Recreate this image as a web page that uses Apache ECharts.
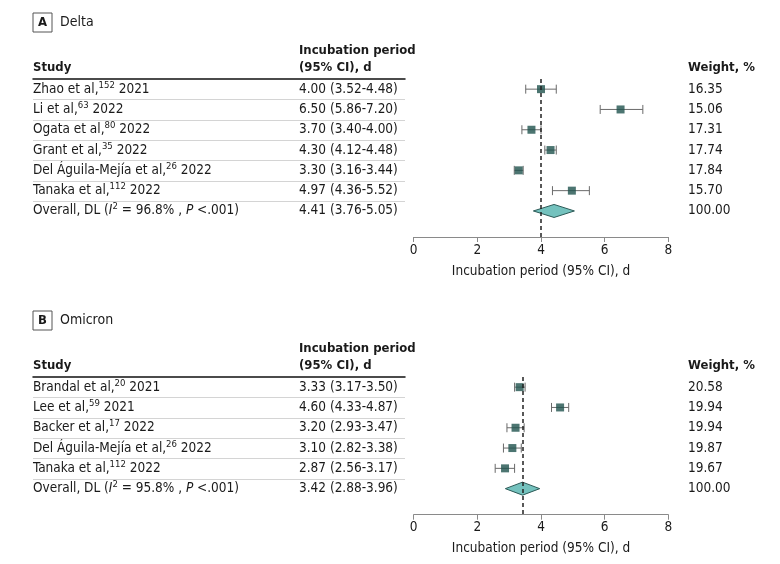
<!DOCTYPE html>
<html><head><meta charset="utf-8">
<script src="https://cdn.jsdelivr.net/npm/echarts@6/dist/echarts.min.js"></script>
<style>html,body{margin:0;padding:0;background:#fff}#c{width:780px;height:564px}</style>
</head><body><div id="c"></div>
<script>
// ---- Panel A: Delta ----
const studiesA = ['Zhao et al,', 'Li et al,', 'Ogata et al,', 'Grant et al,', 'Del Águila-Mejía et al,', 'Tanaka et al,'];
const refsA = ['152', '63', '80', '35', '26', '112'];
const yearsA = ['2021', '2022', '2022', '2022', '2022', '2022'];
const estA = [4.00, 6.50, 3.70, 4.30, 3.30, 4.97];
const loA = [3.52, 5.86, 3.40, 4.12, 3.16, 4.36];
const hiA = [4.48, 7.20, 4.00, 4.48, 3.44, 5.52];
const weightA = [16.35, 15.06, 17.31, 17.74, 17.84, 15.70];
const overallA = [4.41, 3.76, 5.05];
const overallWeightA = 100.00;
const i2A = '96.8';
const refLineA = 4.0;

// ---- Panel B: Omicron ----
const studiesB = ['Brandal et al,', 'Lee et al,', 'Backer et al,', 'Del Águila-Mejía et al,', 'Tanaka et al,'];
const refsB = ['20', '59', '17', '26', '112'];
const yearsB = ['2021', '2021', '2022', '2022', '2022'];
const estB = [3.33, 4.60, 3.20, 3.10, 2.87];
const loB = [3.17, 4.33, 2.93, 2.82, 2.56];
const hiB = [3.50, 4.87, 3.47, 3.38, 3.17];
const weightB = [20.58, 19.94, 19.94, 19.87, 19.67];
const overallB = [3.42, 2.88, 3.96];
const overallWeightB = 100.00;
const i2B = '95.8';
const refLineB = 3.42;

// ---- axis ----
const xMin = 0, xMax = 8, xStep = 2;
const xTitle = 'Incubation period (95% CI), d';

const FONT = '"DejaVu Sans Condensed", "DejaVu Sans", sans-serif';
const TXT = '#1a1a1a';
const FS = 13.5;
const ROW_H = 20.3;
const rich = {
  sup: { fontSize: 9.5, verticalAlign: 'top', lineHeight: 9, color: TXT, fontFamily: FONT },
  it: { fontStyle: 'italic', fontSize: FS, color: TXT, fontFamily: FONT }
};
const fmt = (e, l, h) => `${e.toFixed(2)} (${l.toFixed(2)}-${h.toFixed(2)})`;

const grids = [], xAxes = [], yAxes = [], series = [], titles = [];

function panel(k, letter, title, headY, studies, refs, years, est, lo, hi, w, ov, ovW, i2, refLine) {
  const n = studies.length + 1;
  const tableH = n * ROW_H;
  const axisY = headY + tableH + 15.9;
  const names = studies.map((s, i) => `${s}{sup|${refs[i]}} ${years[i]}`)
    .concat([`Overall, DL ({it|I}{sup|2} = ${i2}% , {it|P} <.001)`]);
  const ci = est.map((e, i) => fmt(e, lo[i], hi[i])).concat([fmt(ov[0], ov[1], ov[2])]);
  const wt = w.concat([ovW]).map(v => v.toFixed(2));

  titles.push({
    left: 33, top: headY - 66, padding: 0,
    text: `{b|${letter}}{t|${title}}`,
    textStyle: { rich: {
      b: { width: 19, height: 19, lineHeight: 19, align: 'center', borderColor: '#555', borderWidth: 1, fontWeight: 'bold', fontSize: 13, color: TXT, fontFamily: FONT },
      t: { padding: [0, 0, 0, 8], fontSize: 14, fontWeight: 'normal', color: TXT, fontFamily: FONT }
    } }
  });

  const gT = grids.length;
  grids.push({ left: 33, top: headY, width: 372, height: tableH, outerBoundsMode: 'none' });
  const gF = grids.length;
  grids.push({ left: 413.7, top: headY, width: 254.6, height: axisY - headY, outerBoundsMode: 'none' });

  const xT = xAxes.length;
  xAxes.push({ type: 'value', gridIndex: gT, min: 0, max: 1, position: 'top',
    axisLine: { show: true, onZero: false, lineStyle: { color: '#111', width: 1.5 } },
    axisTick: { show: false }, axisLabel: { show: false }, splitLine: { show: false } });
  const xF = xAxes.length;
  xAxes.push({ type: 'value', gridIndex: gF, min: xMin, max: xMax, interval: xStep, position: 'bottom',
    axisLine: { show: true, onZero: false, lineStyle: { color: '#8a8a8a', width: 1 } },
    axisTick: { show: true, length: 5, lineStyle: { color: '#8a8a8a' } },
    axisLabel: { color: TXT, fontSize: FS, margin: 6, fontFamily: FONT },
    splitLine: { show: false },
    name: xTitle, nameLocation: 'middle', nameGap: 27,
    nameTextStyle: { color: TXT, fontSize: FS, fontFamily: FONT } });

  const labelBase = (data) => ({ type: 'category', gridIndex: gT, data, inverse: true,
    axisLine: { show: false }, axisTick: { show: false }, splitLine: { show: false },
    axisLabel: { interval: 0, align: 'left', margin: 0, color: TXT, fontSize: FS, fontFamily: FONT, rich, lineHeight: 18 },
    nameLocation: 'start', nameGap: 3, nameMoveOverlap: false });
  const hdr = { fontWeight: 'bold', fontSize: 13, color: TXT, align: 'left', verticalAlign: 'bottom', lineHeight: 17, fontFamily: FONT };

  const yS = yAxes.length;
  yAxes.push(Object.assign(labelBase(names), { position: 'left', name: 'Study', nameTextStyle: hdr }));
  yAxes.push(Object.assign(labelBase(ci), { position: 'left', offset: -266, name: 'Incubation period\n(95% CI), d', nameTextStyle: hdr }));
  yAxes.push(Object.assign(labelBase(wt), { position: 'right', offset: 283, name: 'Weight, %', nameTextStyle: hdr }));
  const yF = yAxes.length;
  yAxes.push({ type: 'value', gridIndex: gF, inverse: true, min: -0.5, max: n - 0.5 + 0.783, show: false });

  // row separators
  series.push({ type: 'custom', xAxisIndex: xT, yAxisIndex: yS, silent: true,
    data: names.slice(0, n - 1).map((_, i) => [0, i]),
    renderItem: (params, api) => {
      const c = api.coord([0, api.value(1)]);
      const bh = api.size([0, 1])[1];
      const y = Math.round(c[1] + bh / 2) + 0.5;
      return { type: 'line', shape: { x1: params.coordSys.x, y1: y, x2: params.coordSys.x + params.coordSys.width, y2: y },
        style: { stroke: '#d4d4d4', lineWidth: 1 } };
    } });

  // error bars
  series.push({ type: 'custom', xAxisIndex: xF, yAxisIndex: yF, silent: true,
    data: est.map((e, i) => [lo[i], hi[i], i]),
    renderItem: (params, api) => {
      const a = api.coord([api.value(0), api.value(2)]);
      const b = api.coord([api.value(1), api.value(2)]);
      const st = { stroke: '#6a6a6a', lineWidth: 1 };
      return { type: 'group', children: [
        { type: 'line', shape: { x1: a[0], y1: a[1], x2: b[0], y2: b[1] }, style: st },
        { type: 'line', shape: { x1: a[0], y1: a[1] - 4.5, x2: a[0], y2: a[1] + 4.5 }, style: st },
        { type: 'line', shape: { x1: b[0], y1: b[1] - 4.5, x2: b[0], y2: b[1] + 4.5 }, style: st }
      ] };
    } });

  // point estimates + reference line
  series.push({ type: 'scatter', xAxisIndex: xF, yAxisIndex: yF, silent: true,
    data: est.map((e, i) => [e, i]), symbol: 'rect', symbolSize: 8,
    itemStyle: { color: '#1f524e' }, z: 3,
    markLine: { silent: true, symbol: 'none', label: { show: false },
      lineStyle: { type: [4, 3], color: '#222', width: 1.5 }, data: [{ xAxis: refLine }] } });

  // overall diamond
  series.push({ type: 'custom', xAxisIndex: xF, yAxisIndex: yF, silent: true, z: 4,
    data: [[ov[1], ov[0], ov[2], n - 1]],
    renderItem: (params, api) => {
      const l = api.coord([api.value(0), api.value(3)]);
      const m = api.coord([api.value(1), api.value(3)]);
      const r = api.coord([api.value(2), api.value(3)]);
      return { type: 'polygon', shape: { points: [l, [m[0], m[1] - 6.5], r, [m[0], m[1] + 6.5]] },
        style: { fill: '#74c2be', stroke: '#2c5a57', lineWidth: 1 } };
    } });
}

panel(0, 'A', 'Delta', 79, studiesA, refsA, yearsA, estA, loA, hiA, weightA, overallA, overallWeightA, i2A, refLineA);
panel(1, 'B', 'Omicron', 377, studiesB, refsB, yearsB, estB, loB, hiB, weightB, overallB, overallWeightB, i2B, refLineB);

const chart = echarts.init(document.getElementById('c'), null, { renderer: 'canvas' });
chart.setOption({
  animation: false,
  backgroundColor: '#fff',
  textStyle: { fontFamily: FONT },
  title: titles,
  grid: grids,
  xAxis: xAxes,
  yAxis: yAxes,
  series
});
</script></body></html>
